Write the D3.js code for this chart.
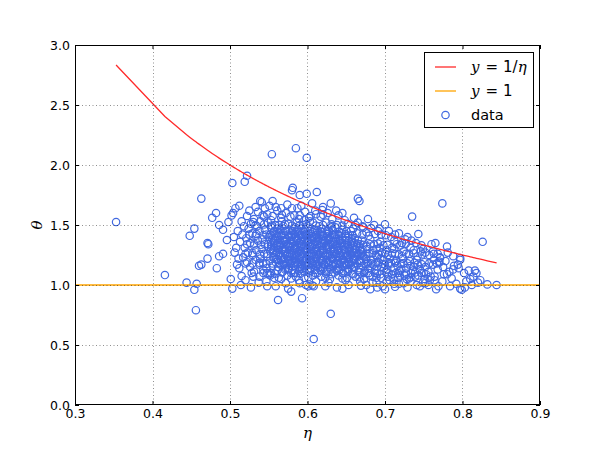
<!DOCTYPE html>
<html><head><meta charset="utf-8">
<script src="https://cdn.jsdelivr.net/npm/d3@7"></script>
<style>body{margin:0;background:#fff}svg{display:block}</style>
</head><body>
<svg id="chart" width="600" height="450"></svg>
<script>
// ---- data (η, θ) ----
const outliers = [[0.353,1.525],[0.416,1.083],[0.444,1.02],[0.448,1.41],[0.454,1.47],[0.454,0.96],[0.456,0.79],[0.457,1.01],[0.460,1.16],[0.463,1.17],[0.463,1.72],[0.471,1.22],[0.471,1.35],[0.472,1.34],[0.477,1.56],[0.482,1.60],[0.483,1.14],[0.486,1.24],[0.486,1.50],[0.491,1.26],[0.491,1.46],[0.496,1.375],[0.498,1.525],[0.501,1.05],[0.502,1.58],[0.503,0.97],[0.503,1.85],[0.504,1.60],[0.507,1.64],[0.509,1.17],[0.512,1.14],[0.512,1.66],[0.514,1.00],[0.515,1.075],[0.515,1.53],[0.519,1.86],[0.522,1.575],[0.522,1.91],[0.530,1.07],[0.530,1.525],[0.539,1.70],[0.541,1.69],[0.543,1.10],[0.552,1.08],[0.554,2.09],[0.555,1.70],[0.562,0.875],[0.572,1.015],[0.575,0.97],[0.579,0.945],[0.580,1.64],[0.580,1.79],[0.581,1.81],[0.584,1.10],[0.585,2.14],[0.587,1.64],[0.590,1.75],[0.590,1.015],[0.593,0.89],[0.596,1.54],[0.599,2.06],[0.599,1.76],[0.601,0.99],[0.602,1.56],[0.606,1.68],[0.606,0.998],[0.608,0.55],[0.608,0.99],[0.610,1.62],[0.612,1.775],[0.619,1.625],[0.630,0.76],[0.630,1.68],[0.631,1.48],[0.640,1.58],[0.656,1.45],[0.665,1.72],[0.667,1.70],[0.669,0.995],[0.672,1.48],[0.678,1.55],[0.681,0.965],[0.682,1.475],[0.684,1.02],[0.700,1.505],[0.700,0.965],[0.704,1.07],[0.713,0.985],[0.718,1.43],[0.719,1.08],[0.724,1.015],[0.729,1.40],[0.731,1.055],[0.734,1.37],[0.735,1.57],[0.737,1.15],[0.741,1.00],[0.743,1.425],[0.746,1.28],[0.747,1.33],[0.747,1.10],[0.752,1.015],[0.759,1.07],[0.760,1.34],[0.765,1.35],[0.766,0.965],[0.767,1.18],[0.769,0.99],[0.770,1.195],[0.771,1.225],[0.774,1.68],[0.780,1.32],[0.780,1.09],[0.786,1.055],[0.788,1.13],[0.788,1.24],[0.792,1.01],[0.794,1.17],[0.797,0.97],[0.797,1.21],[0.797,1.225],[0.799,0.96],[0.805,1.03],[0.810,1.05],[0.816,1.12],[0.818,1.10],[0.820,1.02],[0.826,1.36],[0.832,1.005],[0.844,1.00]];

const edgePoints = [[0.505,1.40],[0.508,1.31],[0.510,1.45],[0.511,1.22],[0.513,1.36],[0.516,1.42],[0.518,1.49],[0.520,1.18],[0.506,1.27],[0.525,1.62],[0.528,1.10],[0.533,1.65],[0.545,1.64],[0.551,1.66],[0.559,1.65],[0.566,1.64],[0.574,1.67],[0.592,1.66],[0.620,1.65],[0.637,1.62],[0.645,1.60],[0.660,1.56],[0.665,1.52],[0.686,1.50],[0.693,1.47],[0.705,1.45],[0.713,1.42],[0.726,1.38],[0.740,1.35],[0.749,1.30],[0.762,1.28],[0.768,1.26],[0.781,1.27],[0.795,1.14],[0.802,1.10],[0.808,1.12],[0.814,1.07],[0.812,1.00],[0.823,1.04],[0.803,0.98],[0.784,0.99],[0.774,1.03],[0.745,0.99],[0.712,1.01],[0.690,0.98],[0.653,1.00],[0.623,0.99],[0.645,0.97],[0.548,0.99],[0.537,1.02],[0.520,1.04],[0.527,0.98]];

const coreUpper = [[0.536,1.61],[0.548,1.59],[0.561,1.62],[0.572,1.60],[0.583,1.58],[0.597,1.61],[0.611,1.59],[0.626,1.60],
[0.531,1.55],[0.544,1.57],[0.553,1.54],[0.566,1.56],[0.578,1.57],[0.589,1.55],[0.603,1.53],[0.617,1.57],[0.632,1.55],[0.648,1.54],
[0.527,1.51],[0.539,1.53],[0.549,1.52],[0.558,1.50],[0.567,1.53],[0.575,1.51],[0.586,1.52],[0.594,1.50],[0.607,1.52],[0.615,1.49],[0.624,1.52],[0.638,1.50],[0.652,1.51],[0.671,1.49],
[0.524,1.47],[0.535,1.49],[0.545,1.46],[0.553,1.48],[0.561,1.47],[0.569,1.49],[0.577,1.46],[0.584,1.48],[0.592,1.47],[0.601,1.49],[0.609,1.46],[0.618,1.47],[0.627,1.45],[0.636,1.48],[0.645,1.46],[0.659,1.47],[0.676,1.44],[0.691,1.45],
[0.529,1.43],[0.538,1.45],[0.547,1.42],[0.556,1.44],[0.563,1.43],[0.571,1.45],[0.579,1.42],[0.586,1.44],[0.593,1.43],[0.600,1.42],[0.607,1.44],[0.614,1.43],[0.621,1.41],[0.628,1.44],[0.636,1.42],[0.644,1.43],[0.653,1.41],[0.664,1.43],[0.679,1.41],[0.695,1.42],[0.708,1.40],
[0.521,1.39],[0.533,1.41],[0.542,1.38],[0.550,1.40],[0.558,1.39],[0.566,1.41],[0.573,1.38],[0.580,1.40],[0.587,1.39],[0.594,1.40],[0.601,1.38],[0.608,1.40],[0.615,1.39],[0.622,1.37],[0.629,1.40],[0.637,1.38],[0.645,1.39],[0.653,1.37],[0.661,1.39],[0.670,1.37],[0.681,1.38],[0.694,1.36],[0.712,1.37],[0.722,1.35],
[0.526,1.35],[0.536,1.37],[0.545,1.34],[0.553,1.36],[0.561,1.35],[0.568,1.37],[0.575,1.34],[0.582,1.36],[0.589,1.35],[0.596,1.36],[0.603,1.34],[0.610,1.36],[0.617,1.35],[0.624,1.33],[0.631,1.36],[0.638,1.34],[0.645,1.35],[0.652,1.33],[0.660,1.35],[0.668,1.34],[0.676,1.32],[0.686,1.34],[0.698,1.33],[0.709,1.31],[0.720,1.33],[0.733,1.31]];

const coreLower = [[0.519,1.31],[0.531,1.33],[0.541,1.30],[0.549,1.32],[0.557,1.31],[0.564,1.33],[0.571,1.30],[0.578,1.32],[0.585,1.31],[0.592,1.32],[0.599,1.30],[0.606,1.32],[0.613,1.31],[0.620,1.29],[0.627,1.32],[0.634,1.30],[0.641,1.31],[0.648,1.29],[0.655,1.31],[0.662,1.30],[0.669,1.28],[0.677,1.30],[0.685,1.29],[0.693,1.31],[0.702,1.29],[0.712,1.30],[0.724,1.28],[0.737,1.29],[0.752,1.27],
[0.523,1.27],[0.534,1.29],[0.544,1.26],[0.552,1.28],[0.560,1.27],[0.567,1.29],[0.574,1.26],[0.581,1.28],[0.588,1.27],[0.595,1.28],[0.602,1.26],[0.609,1.28],[0.616,1.27],[0.623,1.25],[0.630,1.28],[0.637,1.26],[0.644,1.27],[0.651,1.25],[0.658,1.27],[0.665,1.26],[0.672,1.24],[0.680,1.26],[0.688,1.25],[0.696,1.27],[0.704,1.25],[0.713,1.26],[0.722,1.24],[0.731,1.26],[0.742,1.24],[0.757,1.25],[0.771,1.23],
[0.517,1.23],[0.529,1.25],[0.539,1.22],[0.548,1.24],[0.556,1.23],[0.563,1.25],[0.570,1.22],[0.577,1.24],[0.584,1.23],[0.591,1.24],[0.598,1.22],[0.605,1.24],[0.612,1.23],[0.619,1.21],[0.626,1.24],[0.633,1.22],[0.640,1.23],[0.647,1.21],[0.654,1.23],[0.661,1.22],[0.668,1.20],[0.675,1.22],[0.682,1.21],[0.690,1.23],[0.698,1.21],[0.706,1.22],[0.714,1.20],[0.723,1.22],[0.732,1.20],[0.741,1.21],[0.751,1.19],[0.763,1.21],[0.778,1.20],
[0.522,1.19],[0.533,1.21],[0.543,1.18],[0.551,1.20],[0.559,1.19],[0.566,1.21],[0.573,1.18],[0.580,1.20],[0.587,1.19],[0.594,1.20],[0.601,1.18],[0.608,1.20],[0.615,1.19],[0.622,1.17],[0.629,1.20],[0.636,1.18],[0.643,1.19],[0.650,1.17],[0.657,1.19],[0.664,1.18],[0.671,1.16],[0.678,1.18],[0.685,1.17],[0.692,1.19],[0.700,1.17],[0.708,1.18],[0.716,1.16],[0.724,1.18],[0.733,1.16],[0.742,1.17],[0.752,1.15],[0.762,1.17],[0.775,1.15],[0.789,1.16],
[0.526,1.15],[0.538,1.17],[0.547,1.14],[0.555,1.16],[0.562,1.15],[0.569,1.17],[0.576,1.14],[0.583,1.16],[0.590,1.15],[0.597,1.16],[0.604,1.14],[0.611,1.16],[0.618,1.15],[0.625,1.13],[0.632,1.16],[0.639,1.14],[0.646,1.15],[0.653,1.13],[0.660,1.15],[0.667,1.14],[0.674,1.12],[0.681,1.14],[0.688,1.13],[0.695,1.15],[0.703,1.13],[0.711,1.14],[0.719,1.12],[0.727,1.14],[0.736,1.12],[0.745,1.13],[0.756,1.11],[0.768,1.13],[0.783,1.11],
[0.531,1.11],[0.543,1.13],[0.553,1.10],[0.561,1.12],[0.568,1.11],[0.575,1.13],[0.582,1.10],[0.589,1.12],[0.596,1.11],[0.603,1.12],[0.610,1.10],[0.617,1.12],[0.624,1.11],[0.631,1.09],[0.638,1.12],[0.645,1.10],[0.652,1.11],[0.659,1.09],[0.666,1.11],[0.673,1.10],[0.680,1.08],[0.687,1.10],[0.694,1.09],[0.701,1.11],[0.709,1.09],[0.717,1.10],[0.725,1.08],[0.734,1.10],[0.743,1.08],[0.753,1.09],[0.764,1.07],[0.776,1.09],
[0.538,1.07],[0.551,1.09],[0.563,1.06],[0.574,1.08],[0.585,1.07],[0.596,1.06],[0.607,1.08],[0.618,1.07],[0.629,1.05],[0.640,1.08],[0.651,1.06],[0.662,1.07],[0.673,1.05],[0.684,1.07],[0.695,1.06],[0.706,1.04],[0.717,1.06],[0.728,1.05],[0.739,1.07],[0.751,1.05],[0.764,1.04],
[0.547,1.03],[0.566,1.05],[0.589,1.04],[0.611,1.03],[0.627,1.02],[0.649,1.04],[0.668,1.03],[0.689,1.02],[0.702,1.03],[0.718,1.01],[0.733,1.03],[0.749,1.02],[0.758,1.04],
[0.559,0.99],[0.598,1.00],[0.638,0.98],[0.676,1.00],[0.697,0.99],[0.729,0.98],[0.756,1.00]];

const coreFill = [[0.565,1.46],[0.581,1.45],[0.597,1.465],[0.613,1.455],[0.632,1.46],
[0.555,1.38],[0.570,1.375],[0.585,1.385],[0.599,1.37],[0.614,1.38],[0.627,1.385],[0.642,1.37],[0.657,1.38],
[0.553,1.30],[0.568,1.295],[0.583,1.305],[0.597,1.29],[0.611,1.30],[0.625,1.305],[0.639,1.29],[0.654,1.30],[0.671,1.295],[0.689,1.30],
[0.560,1.22],[0.575,1.215],[0.589,1.225],[0.603,1.21],[0.617,1.22],[0.631,1.225],[0.645,1.21],[0.659,1.22],[0.676,1.215],[0.694,1.22],[0.711,1.21],
[0.572,1.14],[0.593,1.135],[0.614,1.145],[0.636,1.13],[0.657,1.14],[0.678,1.135],[0.699,1.14],[0.721,1.13]];

const coreExtra = [[0.542,1.58],[0.555,1.575],[0.567,1.585],[0.590,1.58],[0.604,1.575],[0.620,1.585],
[0.533,1.50],[0.544,1.505],[0.554,1.495],[0.563,1.50],[0.571,1.505],[0.580,1.495],[0.590,1.50],[0.598,1.505],[0.611,1.495],[0.620,1.50],[0.631,1.505],[0.645,1.495],[0.662,1.50],
[0.525,1.42],[0.534,1.425],[0.543,1.415],[0.552,1.42],[0.560,1.425],[0.567,1.415],[0.575,1.42],[0.583,1.425],[0.590,1.415],[0.597,1.42],[0.604,1.425],[0.611,1.415],[0.618,1.42],[0.625,1.425],[0.632,1.415],[0.640,1.42],[0.649,1.425],[0.658,1.415],[0.671,1.42],[0.687,1.425],[0.701,1.415],
[0.522,1.34],[0.531,1.345],[0.540,1.335],[0.549,1.34],[0.557,1.345],[0.565,1.335],[0.572,1.34],[0.579,1.345],[0.586,1.335],[0.593,1.34],[0.600,1.345],[0.607,1.335],[0.614,1.34],[0.621,1.345],[0.628,1.335],[0.635,1.34],[0.642,1.345],[0.649,1.335],[0.656,1.34],[0.664,1.345],[0.672,1.335],[0.681,1.34],[0.691,1.345],[0.703,1.335],[0.715,1.34],[0.727,1.345],
[0.520,1.26],[0.529,1.265],[0.539,1.255],[0.548,1.26],[0.556,1.265],[0.564,1.255],[0.571,1.26],[0.578,1.265],[0.585,1.255],[0.592,1.26],[0.599,1.265],[0.606,1.255],[0.613,1.26],[0.620,1.265],[0.627,1.255],[0.634,1.26],[0.641,1.265],[0.648,1.255],[0.655,1.26],[0.662,1.265],[0.669,1.255],[0.676,1.26],[0.684,1.265],[0.692,1.255],[0.700,1.26],[0.709,1.265],[0.718,1.255],[0.727,1.26],[0.737,1.265],[0.748,1.255],[0.763,1.26],
[0.529,1.18],[0.538,1.185],[0.547,1.175],[0.555,1.18],[0.563,1.185],[0.570,1.175],[0.577,1.18],[0.584,1.185],[0.591,1.175],[0.598,1.18],[0.605,1.185],[0.612,1.175],[0.619,1.18],[0.626,1.185],[0.633,1.175],[0.640,1.18],[0.647,1.185],[0.654,1.175],[0.661,1.18],[0.668,1.185],[0.675,1.175],[0.682,1.18],[0.689,1.185],[0.697,1.175],[0.705,1.18],[0.713,1.185],[0.721,1.175],[0.729,1.18],[0.738,1.185],[0.747,1.175],[0.757,1.18],[0.770,1.185],
[0.548,1.10],[0.558,1.095],[0.567,1.105],[0.579,1.10],[0.591,1.095],[0.602,1.105],[0.613,1.10],[0.624,1.095],[0.635,1.105],[0.646,1.10],[0.657,1.095],[0.668,1.105],[0.679,1.10],[0.690,1.095],[0.703,1.105],[0.714,1.10],[0.727,1.095],[0.739,1.105],[0.750,1.10],
[0.557,1.06],[0.579,1.055],[0.601,1.065],[0.623,1.06],[0.645,1.055],[0.667,1.065],[0.689,1.06],[0.711,1.055],[0.733,1.065]];

const coreDense = [[0.557,1.45],[0.565,1.455],[0.572,1.445],[0.580,1.45],[0.588,1.455],[0.595,1.445],[0.603,1.45],[0.610,1.455],[0.618,1.445],[0.625,1.45],[0.633,1.455],[0.641,1.445],[0.650,1.45],
[0.554,1.41],[0.561,1.405],[0.569,1.415],[0.576,1.41],[0.584,1.405],[0.591,1.415],[0.598,1.41],[0.605,1.405],[0.612,1.415],[0.619,1.41],[0.626,1.405],[0.634,1.415],[0.641,1.41],[0.649,1.405],[0.658,1.415],
[0.557,1.37],[0.564,1.375],[0.571,1.365],[0.578,1.37],[0.586,1.375],[0.592,1.365],[0.600,1.37],[0.606,1.375],[0.613,1.365],[0.620,1.37],[0.627,1.375],[0.634,1.365],[0.641,1.37],[0.649,1.375],[0.657,1.365],[0.665,1.37],
[0.553,1.33],[0.561,1.325],[0.568,1.335],[0.575,1.33],[0.582,1.325],[0.589,1.335],[0.596,1.33],[0.603,1.325],[0.610,1.335],[0.617,1.33],[0.624,1.325],[0.631,1.335],[0.638,1.33],[0.645,1.325],[0.652,1.335],[0.659,1.33],[0.667,1.325],
[0.556,1.29],[0.563,1.295],[0.570,1.285],[0.577,1.29],[0.584,1.295],[0.591,1.285],[0.598,1.29],[0.605,1.295],[0.612,1.285],[0.619,1.29],[0.626,1.295],[0.633,1.285],[0.640,1.29],[0.647,1.295],[0.654,1.285],[0.661,1.29],[0.668,1.295],
[0.559,1.25],[0.566,1.245],[0.573,1.255],[0.580,1.25],[0.587,1.245],[0.594,1.255],[0.601,1.25],[0.608,1.245],[0.615,1.255],[0.622,1.25],[0.629,1.245],[0.636,1.255],[0.643,1.25],[0.650,1.245],[0.657,1.255],[0.664,1.25],[0.671,1.245],
[0.562,1.21],[0.569,1.215],[0.576,1.205],[0.583,1.21],[0.590,1.215],[0.597,1.205],[0.604,1.21],[0.611,1.215],[0.618,1.205],[0.625,1.21],[0.632,1.215],[0.639,1.205],[0.646,1.21],[0.653,1.215],[0.660,1.205],[0.667,1.21],
[0.565,1.17],[0.572,1.165],[0.579,1.175],[0.586,1.17],[0.593,1.165],[0.600,1.175],[0.607,1.17],[0.614,1.165],[0.621,1.175],[0.628,1.17],[0.635,1.165],[0.642,1.175],[0.649,1.17],[0.656,1.165],
[0.571,1.13],[0.580,1.125],[0.590,1.135],[0.600,1.13],[0.610,1.125],[0.620,1.135],[0.630,1.13],[0.641,1.125],[0.652,1.135]];

const xTicks = [0.3,0.4,0.5,0.6,0.7,0.8,0.9];
const yTicks = [0.0,0.5,1.0,1.5,2.0,2.5,3.0];
const legendLabels = ["y = 1/η","y = 1","data"];

const data = outliers.concat(edgePoints, coreUpper, coreLower, coreFill, coreExtra, coreDense);

// ---- layout ----
const L = 75, R = 540, T = 45, B = 405;
const svg = d3.select("#chart");
const x = d3.scaleLinear().domain([0.3,0.9]).range([L,R]);
const y = d3.scaleLinear().domain([0,3]).range([B,T]);
const blue = "#4169E1", red = "#FF2A2A", orange = "#FFA500";

svg.append("defs").append("clipPath").attr("id","clip")
  .append("rect").attr("x",L).attr("y",T).attr("width",R-L).attr("height",B-T);

const plot = svg.append("g").attr("clip-path","url(#clip)");

// scatter
plot.append("g").selectAll("circle").data(data).join("circle")
  .attr("cx", d=>x(d[0])).attr("cy", d=>y(d[1])).attr("r",3.7)
  .attr("fill","none").attr("stroke",blue).attr("stroke-width",1.2);

// y = 1/η line over sorted η values
const etaSorted = Array.from(new Set(data.map(d=>d[0]))).sort((a,b)=>a-b);
const curve = etaSorted.map(e=>[e,1/e]);
plot.append("path").datum(curve)
  .attr("d", d3.line().x(d=>x(d[0])).y(d=>y(d[1])))
  .attr("fill","none").attr("stroke",red).attr("stroke-width",1.3);

// y = 1
plot.append("line").attr("x1",x(0.3)).attr("x2",x(0.9)).attr("y1",y(1)).attr("y2",y(1))
  .attr("stroke",orange).attr("stroke-width",1.3);

// grid (drawn above data, classic style)
const grid = svg.append("g").attr("stroke","#000").attr("stroke-opacity",0.55)
  .attr("stroke-width",0.8).attr("stroke-dasharray","1,2.5");
grid.selectAll(".gx").data(xTicks.slice(1,-1)).join("line")
  .attr("x1",d=>Math.round(x(d))+0.5).attr("x2",d=>Math.round(x(d))+0.5).attr("y1",T).attr("y2",B);
grid.selectAll(".gy").data(yTicks.slice(1,-1)).join("line")
  .attr("y1",d=>Math.round(y(d))+0.5).attr("y2",d=>Math.round(y(d))+0.5).attr("x1",L).attr("x2",R);

// axes
const fmt = d3.format(".1f");
const axB = svg.append("g").attr("transform",`translate(0,${B})`)
  .call(d3.axisBottom(x).tickValues(xTicks).tickFormat(fmt).tickSizeInner(-4).tickSizeOuter(0).tickPadding(4));
const axT = svg.append("g").attr("transform",`translate(0,${T})`)
  .call(d3.axisTop(x).tickValues(xTicks).tickFormat("").tickSizeInner(-4).tickSizeOuter(0));
const axLft = svg.append("g").attr("transform",`translate(${L},0)`)
  .call(d3.axisLeft(y).tickValues(yTicks).tickFormat(fmt).tickSizeInner(-4).tickSizeOuter(0).tickPadding(5));
const axRt = svg.append("g").attr("transform",`translate(${R},0)`)
  .call(d3.axisRight(y).tickValues(yTicks).tickFormat("").tickSizeInner(-4).tickSizeOuter(0));
[axB,axT,axLft,axRt].forEach(a=>{
  a.select(".domain").remove();
  a.selectAll("line").attr("stroke","#000");
  a.selectAll("text").attr("font-family","DejaVu Sans").attr("font-size","12.5px").attr("fill","#000");
});
svg.append("rect").attr("x",L+0.5).attr("y",T+0.5).attr("width",R-L-1).attr("height",B-T-1)
  .attr("fill","none").attr("stroke","#000").attr("stroke-width",1);

// axis labels
svg.append("text").attr("x",(L+R)/2).attr("y",438).attr("text-anchor","middle")
  .attr("font-family","DejaVu Serif").attr("font-style","italic").attr("font-size","15px").text("η");
svg.append("text").attr("transform","translate(42,225) rotate(-90)").attr("text-anchor","middle")
  .attr("font-family","DejaVu Serif").attr("font-style","italic").attr("font-size","15px").text("θ");

// legend
const lg = svg.append("g");
lg.append("rect").attr("x",424.5).attr("y",52.5).attr("width",109).attr("height",75)
  .attr("fill","#fff").attr("stroke","#000").attr("stroke-width",1);
const rows = [67, 91, 115];
lg.append("line").attr("x1",435).attr("x2",456).attr("y1",rows[0]).attr("y2",rows[0]).attr("stroke",red).attr("stroke-width",1.3);
lg.append("line").attr("x1",435).attr("x2",456).attr("y1",rows[1]).attr("y2",rows[1]).attr("stroke",orange).attr("stroke-width",1.3);
lg.append("circle").attr("cx",445.5).attr("cy",rows[2]).attr("r",3.7).attr("fill","none").attr("stroke",blue).attr("stroke-width",1.2);

function mathLabel(yPos, parts){
  const t = lg.append("text").attr("x",471).attr("y",yPos+5).attr("font-size","15px");
  parts.forEach(p=>{
    t.append("tspan").attr("dx",p.dx||0)
      .attr("font-family", p.it ? "DejaVu Serif" : "DejaVu Sans")
      .attr("font-style", p.it ? "italic" : "normal").text(p.s);
  });
}
const l0 = legendLabels[0], l1 = legendLabels[1];
mathLabel(rows[0], [{s:l0[0],it:true},{s:"=",dx:6},{s:"1/",dx:5},{s:l0[6],it:true}]);
mathLabel(rows[1], [{s:l1[0],it:true},{s:"=",dx:6},{s:"1",dx:5}]);
lg.append("text").attr("x",471).attr("y",rows[2]+5).attr("font-family","DejaVu Sans")
  .attr("font-size","14.5px").text(legendLabels[2]);
</script>
</body></html>
